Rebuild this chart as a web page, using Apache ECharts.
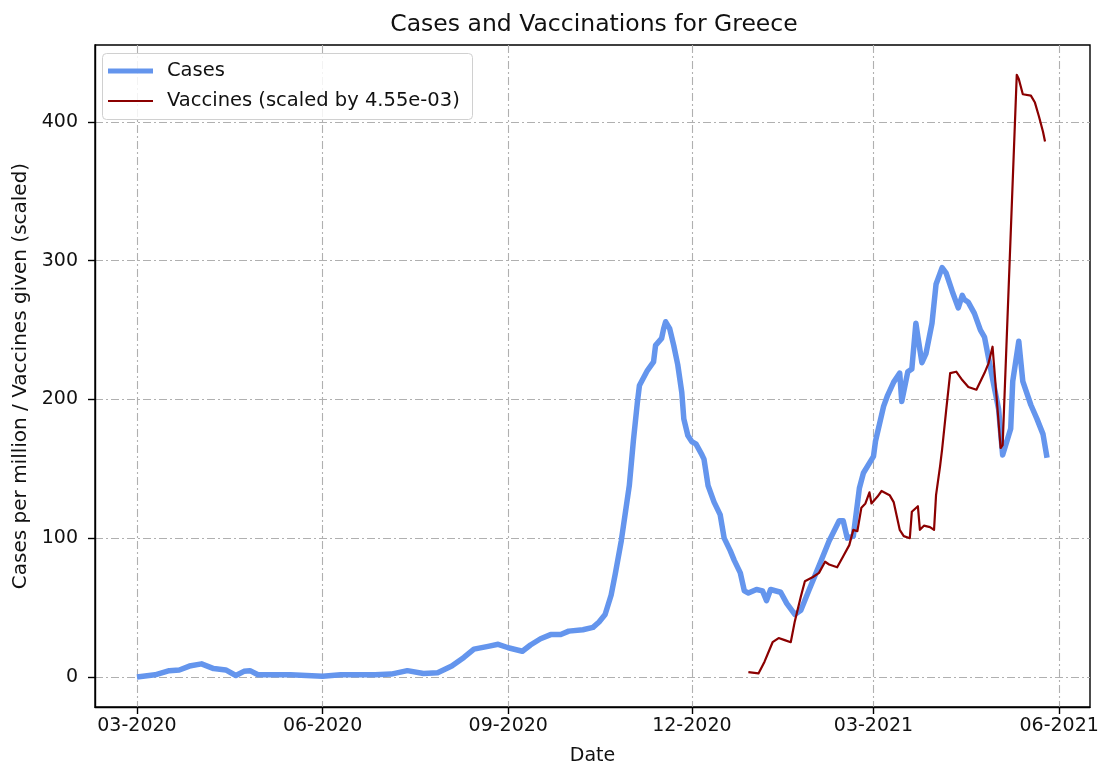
<!DOCTYPE html>
<html>
<head>
<meta charset="utf-8">
<script src="https://cdn.jsdelivr.net/npm/echarts@6/dist/echarts.min.js"></script>
<style>
  html, body { margin: 0; padding: 0; background: #fff; }
  #chart { width: 1101px; height: 767px; }
</style>
</head>
<body>
<div id="chart"></div>
<script>
// daily cases per million (7-day avg)
var caseDates = [
  '2020-03-01','2020-03-10','2020-03-17','2020-03-22','2020-03-27','2020-04-02','2020-04-08',
  '2020-04-14','2020-04-19','2020-04-23','2020-04-26','2020-04-30','2020-05-16','2020-06-01',
  '2020-06-10','2020-06-27','2020-07-05','2020-07-13','2020-07-21','2020-07-28','2020-08-04',
  '2020-08-10','2020-08-15','2020-08-22','2020-08-27','2020-09-01','2020-09-08','2020-09-12',
  '2020-09-17','2020-09-22','2020-09-27','2020-10-01','2020-10-08','2020-10-13','2020-10-16',
  '2020-10-19','2020-10-22','2020-10-24','2020-10-27','2020-10-31','2020-11-02','2020-11-04',
  '2020-11-05','2020-11-09','2020-11-12','2020-11-13','2020-11-16','2020-11-17','2020-11-18',
  '2020-11-20','2020-11-22','2020-11-24','2020-11-26','2020-11-27','2020-11-29','2020-12-01',
  '2020-12-03','2020-12-06','2020-12-07','2020-12-09','2020-12-12','2020-12-15','2020-12-17',
  '2020-12-20','2020-12-22','2020-12-25','2020-12-27','2020-12-29','2021-01-02','2021-01-05',
  '2021-01-07','2021-01-09','2021-01-14','2021-01-17','2021-01-21','2021-01-24','2021-01-28',
  '2021-02-02','2021-02-07','2021-02-12','2021-02-14','2021-02-16','2021-02-19','2021-02-22',
  '2021-02-24','2021-03-01','2021-03-02','2021-03-06','2021-03-08','2021-03-11','2021-03-14',
  '2021-03-15','2021-03-18','2021-03-20','2021-03-22','2021-03-23','2021-03-25','2021-03-27',
  '2021-03-30','2021-04-01','2021-04-04','2021-04-06','2021-04-09','2021-04-12','2021-04-14',
  '2021-04-15','2021-04-17','2021-04-20','2021-04-23','2021-04-25','2021-04-29','2021-05-02',
  '2021-05-04','2021-05-08','2021-05-09','2021-05-12','2021-05-14','2021-05-18','2021-05-21',
  '2021-05-24','2021-05-26'
];
var caseValues = [
  0, 1.5, 4.5, 5, 7.8, 9.4, 6,
  5, 1, 4, 4.5, 1.5, 1.5, 0.5,
  1.5, 1.5, 2, 4.5, 2.5, 3, 7.8,
  14, 20, 22, 23.5, 21, 18.5, 23,
  27.5, 30.5, 30.5, 33, 34, 35.7, 39.6,
  45, 59, 74, 98, 138, 170, 198,
  210, 221, 227, 239, 244, 251, 256,
  251, 239, 225, 205, 186, 174, 169.5,
  168, 160, 157, 138, 126, 117, 100,
  91, 84, 75, 62, 60.5, 63, 62,
  55, 63, 61, 53, 45, 48, 62.5,
  80, 98, 112.5, 112.5, 100, 101.5, 136,
  147, 159, 170, 195, 203, 212.5, 219,
  198.5, 220, 222, 255, 245, 226.5, 233,
  255, 283, 295, 291, 278, 266, 275,
  272, 270, 262, 250, 245, 215, 193,
  160, 179, 213, 242, 213, 196, 186,
  175, 158
];

// vaccines given, already multiplied by 4.55e-03
var vacDates = [
  '2020-12-29','2021-01-03','2021-01-06','2021-01-10','2021-01-13','2021-01-16','2021-01-19',
  '2021-01-21','2021-01-24','2021-01-26','2021-01-30','2021-02-02','2021-02-05','2021-02-07',
  '2021-02-11','2021-02-14','2021-02-17','2021-02-19','2021-02-21','2021-02-23','2021-02-25',
  '2021-02-27','2021-02-28','2021-03-03','2021-03-05','2021-03-09','2021-03-11','2021-03-14',
  '2021-03-16','2021-03-19','2021-03-20','2021-03-23','2021-03-24','2021-03-26','2021-03-29',
  '2021-03-31','2021-04-01','2021-04-03','2021-04-04','2021-04-06','2021-04-08','2021-04-11',
  '2021-04-14','2021-04-17','2021-04-21','2021-04-25','2021-04-27','2021-04-29','2021-05-03',
  '2021-05-04','2021-05-11','2021-05-12','2021-05-14','2021-05-18','2021-05-20','2021-05-22',
  '2021-05-24','2021-05-25'
];
var vacValues = [
  3.5, 2.5, 11, 25, 28, 26.5, 25,
  40, 58, 69, 72, 75, 83, 81,
  79, 87, 95, 106, 105, 122, 125,
  133, 125, 130, 134, 131, 126, 106,
  101.5, 100, 119, 123, 106, 109, 108,
  106, 131, 152, 164, 192, 219, 220,
  214, 209, 207, 219, 226, 238, 165,
  167, 434, 431, 420, 419, 414, 404,
  393, 386
];

var xTickDates = ['2020-03-01', '2020-06-01', '2020-09-01', '2020-12-01', '2021-03-01', '2021-06-01'];
var yTicks = [0, 100, 200, 300, 400];

var FONT = 'DejaVu Sans';
var gridLine = { color: '#b0b0b0', width: 1.1, type: [8, 3, 2, 3] };
var spine = { show: true, onZero: false, lineStyle: { color: '#000', width: 1.4 } };

function toTime(s) { return new Date(s + 'T00:00:00').getTime(); }
function zip(ds, vs) {
  var out = [];
  for (var i = 0; i < ds.length; i++) out.push([toTime(ds[i]), vs[i]]);
  return out;
}
function pad2(n) { return (n < 10 ? '0' : '') + n; }

var chart = echarts.init(document.getElementById('chart'), null, { renderer: 'canvas' });

var option = {
  backgroundColor: '#ffffff',
  animation: false,
  textStyle: { fontFamily: FONT },
  title: {
    text: 'Cases and Vaccinations for Greece',
    left: 589, top: 8, textAlign: 'center',
    textStyle: { fontFamily: FONT, fontSize: 23.5, fontWeight: 'normal', color: '#111' }
  },
  grid: {
    left: 95, right: 11, top: 45, bottom: 60,
    outerBoundsMode: 'none', containLabel: false,
    show: true, borderColor: '#000', borderWidth: 1.4, backgroundColor: 'transparent'
  },
  graphic: [{
    type: 'rect', left: 102, top: 53, z: 5,
    shape: { width: 370, height: 66, r: 4 },
    style: { fill: 'rgba(255,255,255,0.85)', stroke: '#d0d0d0', lineWidth: 1 }
  }],
  legend: [{
    data: ['Cases'], left: 108, top: 61, padding: 0, z: 10,
    itemWidth: 45, itemHeight: 5, icon: 'rect',
    textStyle: { fontFamily: FONT, fontSize: 19.5, color: '#111', padding: [0, 0, 0, 9] }
  }, {
    data: ['Vaccines (scaled by 4.55e-03)'], left: 108, top: 91, padding: 0, z: 10,
    itemWidth: 45, itemHeight: 2, icon: 'rect',
    textStyle: { fontFamily: FONT, fontSize: 19.5, color: '#111', padding: [0, 0, 0, 9] }
  }],
  xAxis: {
    type: 'value',
    min: toTime('2020-02-09') + 5 * 3600e3,
    max: toTime('2021-06-16') + 7 * 3600e3,
    name: 'Date', nameLocation: 'middle', nameGap: 40,
    nameTextStyle: { fontFamily: FONT, fontSize: 19, color: '#111' },
    axisLine: spine,
    axisTick: { show: true, inside: false, length: 7, lineStyle: { color: '#000', width: 1.4 },
      customValues: xTickDates.map(toTime) },
    axisLabel: {
      fontFamily: FONT, fontSize: 19, color: '#111', margin: 10,
      customValues: xTickDates.map(toTime),
      formatter: function (v) { var d = new Date(v); return pad2(d.getMonth() + 1) + '-' + d.getFullYear(); }
    },
    splitLine: { show: true, lineStyle: gridLine }
  },
  yAxis: {
    type: 'value',
    min: -21.7, max: 455.5,
    name: 'Cases per million / Vaccines given (scaled)', nameLocation: 'middle', nameGap: 63,
    nameTextStyle: { fontFamily: FONT, fontSize: 20, color: '#111' },
    axisLine: spine,
    axisTick: { show: true, inside: false, length: 7, lineStyle: { color: '#000', width: 1.4 },
      customValues: yTicks },
    axisLabel: { fontFamily: FONT, fontSize: 19, color: '#111', margin: 17, customValues: yTicks },
    splitLine: { show: true, lineStyle: gridLine }
  },
  series: [{
    name: 'Cases', type: 'line', showSymbol: false, z: 2,
    color: '#6495ED',
    lineStyle: { color: '#6495ED', width: 5.5, join: 'round' },
    data: zip(caseDates, caseValues)
  }, {
    name: 'Vaccines (scaled by 4.55e-03)', type: 'line', showSymbol: false, z: 3,
    color: '#8B0000',
    lineStyle: { color: '#8B0000', width: 2.2, join: 'round' },
    data: zip(vacDates, vacValues)
  }]
};

chart.setOption(option);
</script>
</body>
</html>
